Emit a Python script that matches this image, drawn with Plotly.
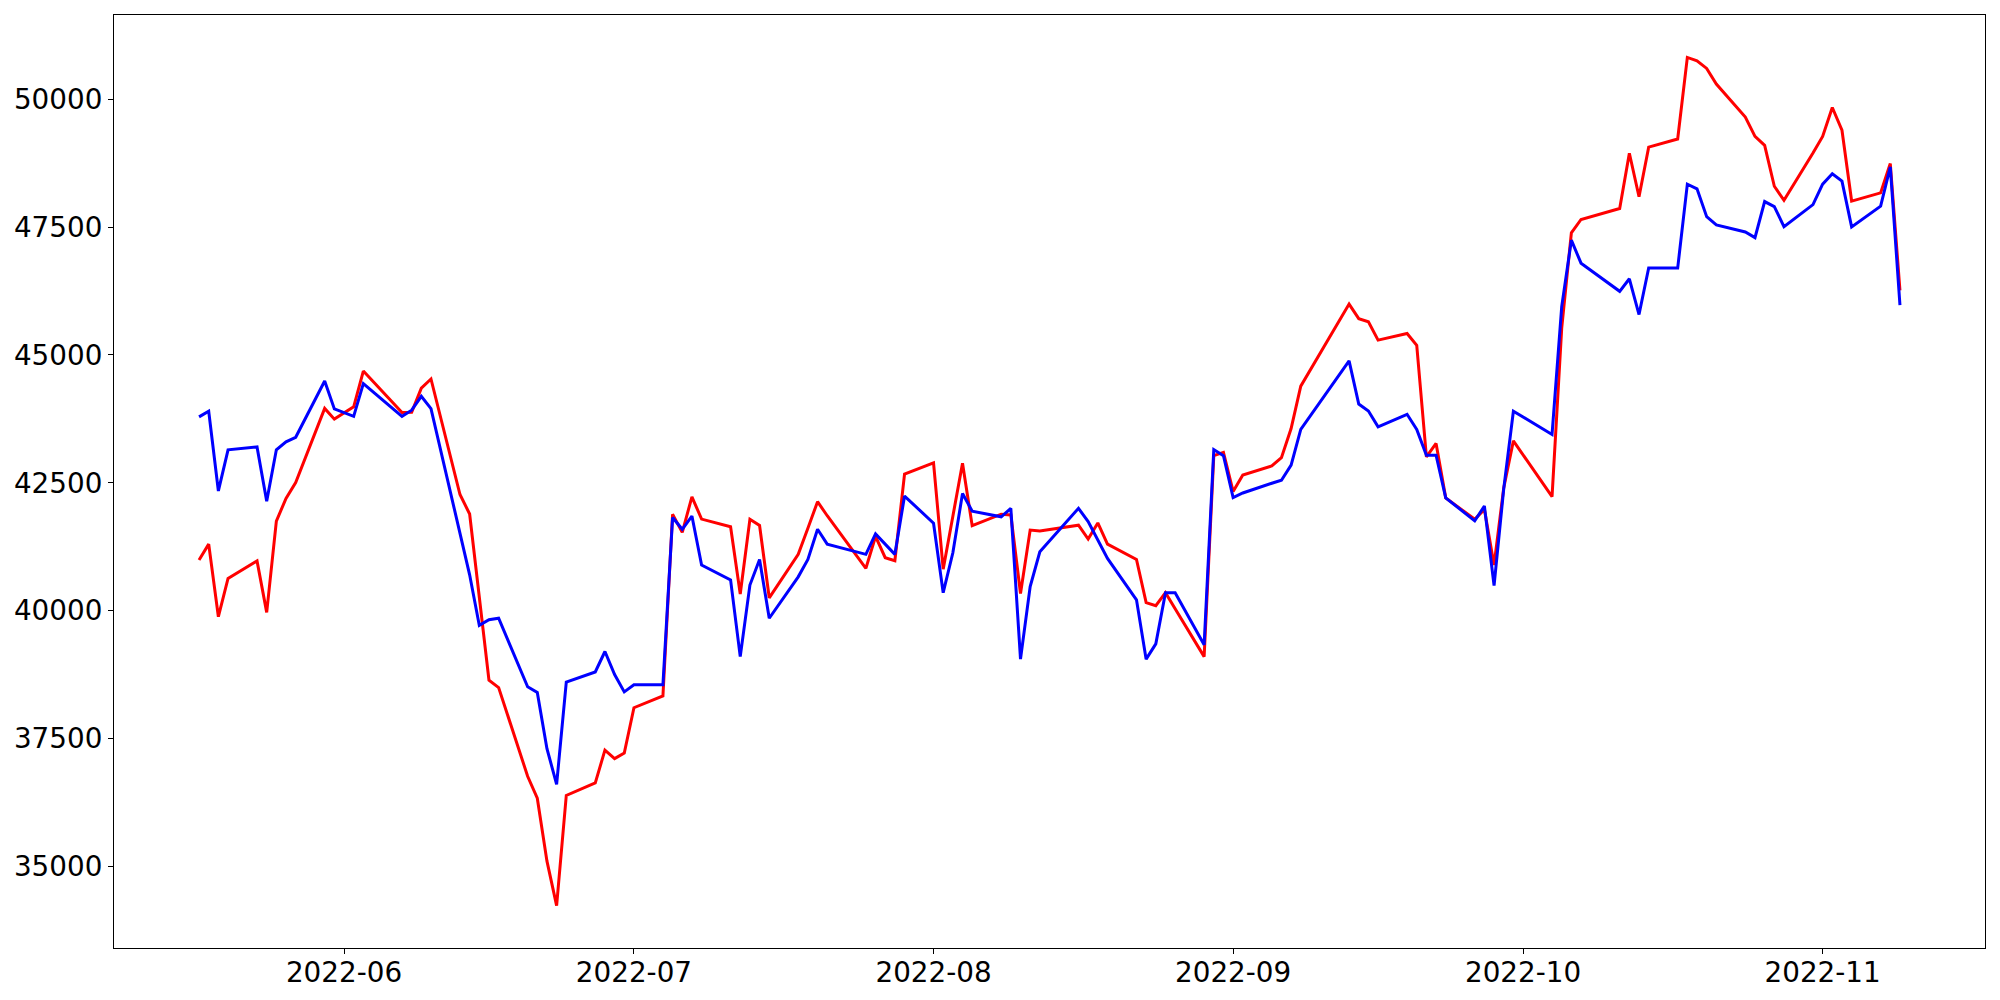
import pandas as pd
import plotly.graph_objects as go

dates = [
    "2022-05-17", "2022-05-18", "2022-05-19", "2022-05-20", "2022-05-23", "2022-05-24",
    "2022-05-25", "2022-05-26", "2022-05-27", "2022-05-30", "2022-05-31", "2022-06-02",
    "2022-06-03", "2022-06-07", "2022-06-08", "2022-06-09", "2022-06-10", "2022-06-13",
    "2022-06-14", "2022-06-15", "2022-06-16", "2022-06-17", "2022-06-20", "2022-06-21",
    "2022-06-22", "2022-06-23", "2022-06-24", "2022-06-27", "2022-06-28", "2022-06-29",
    "2022-06-30", "2022-07-01", "2022-07-04", "2022-07-05", "2022-07-06", "2022-07-07",
    "2022-07-08", "2022-07-11", "2022-07-12", "2022-07-13", "2022-07-14", "2022-07-15",
    "2022-07-18", "2022-07-19", "2022-07-20", "2022-07-21", "2022-07-25", "2022-07-26",
    "2022-07-27", "2022-07-28", "2022-07-29", "2022-08-01", "2022-08-02", "2022-08-03",
    "2022-08-04", "2022-08-05", "2022-08-08", "2022-08-09", "2022-08-10", "2022-08-11",
    "2022-08-12", "2022-08-16", "2022-08-17", "2022-08-18", "2022-08-19", "2022-08-22",
    "2022-08-23", "2022-08-24", "2022-08-25", "2022-08-26", "2022-08-29", "2022-08-30",
    "2022-08-31", "2022-09-01", "2022-09-02", "2022-09-05", "2022-09-06", "2022-09-07",
    "2022-09-08", "2022-09-13", "2022-09-14", "2022-09-15", "2022-09-16", "2022-09-19",
    "2022-09-20", "2022-09-21", "2022-09-22", "2022-09-23", "2022-09-26", "2022-09-27",
    "2022-09-28", "2022-09-29", "2022-09-30", "2022-10-04", "2022-10-05", "2022-10-06",
    "2022-10-07", "2022-10-11", "2022-10-12", "2022-10-13", "2022-10-14", "2022-10-17",
    "2022-10-18", "2022-10-19", "2022-10-20", "2022-10-21", "2022-10-24", "2022-10-25",
    "2022-10-26", "2022-10-27", "2022-10-28", "2022-10-31", "2022-11-01", "2022-11-02",
    "2022-11-03", "2022-11-04", "2022-11-07", "2022-11-08", "2022-11-09",
]

red_values = [
    40990, 41300, 39880, 40630, 40970, 39965,
    41750, 42195, 42505, 43955, 43745, 43985,
    44685, 43875, 43880, 44350, 44530, 42270,
    41890, 40265, 38640, 38495, 36760, 36330,
    35100, 34230, 36385, 36630, 37270, 37105,
    37215, 38100, 38330, 41885, 41530, 42225,
    41790, 41640, 40325, 41785, 41665, 40250,
    41100, 41610, 42130, 41855, 40825, 41450,
    41035, 40975, 42670, 42890, 40810, 41845,
    42880, 41660, 41885, 41870, 40335, 41575,
    41555, 41670, 41400, 41715, 41300, 41000,
    40155, 40095, 40350, 40035, 39100, 43030,
    43095, 42330, 42650, 42830, 42990, 43560,
    44390, 45995, 45710, 45650, 45290, 45420,
    45190, 43005, 43270, 42205, 41785, 41980,
    40890, 42400, 43320, 42230, 45525, 47390,
    47650, 47865, 48945, 48095, 49065, 49225,
    50820, 50755, 50605, 50300, 49655, 49275,
    49100, 48300, 48025, 48950, 49275, 49840,
    49395, 48010, 48170, 48745, 46265,
]

blue_values = [
    43790, 43900, 42340, 43145, 43200, 42140,
    43145, 43300, 43390, 44490, 43945, 43800,
    44440, 43800, 43920, 44190, 43950, 41550,
    40700, 39710, 39820, 39850, 38510, 38400,
    37300, 36600, 38600, 38800, 39200, 38750,
    38410, 38550, 38550, 41820, 41590, 41850,
    40890, 40600, 39100, 40500, 41000, 39850,
    40660, 41000, 41590, 41300, 41100, 41500,
    41300, 41100, 42240, 41710, 40350, 41130,
    42290, 41945, 41835, 42000, 39050, 40470,
    41150, 42000, 41740, 41380, 41020, 40210,
    39050, 39350, 40350, 40350, 39330, 43150,
    43030, 42210, 42300, 42490, 42550, 42845,
    43545, 44885, 44040, 43905, 43595, 43840,
    43545, 43040, 43040, 42205, 41755, 42045,
    40490, 42380, 43900, 43445, 45945, 47245,
    46795, 46245, 46490, 45790, 46700, 46700,
    48340, 48250, 47705, 47545, 47405, 47295,
    48000, 47900, 47510, 47940, 48340, 48545,
    48400, 47505, 47910, 48680, 45975,
]

y_ticks = [35000, 37500, 40000, 42500, 45000, 47500, 50000]
x_ticks = ["2022-06-01", "2022-07-01", "2022-08-01", "2022-09-01", "2022-10-01", "2022-11-01"]
x_tick_labels = ["2022-06", "2022-07", "2022-08", "2022-09", "2022-10", "2022-11"]

x = pd.to_datetime(dates)

# matplotlib-like 5% margins
x_span = x.max() - x.min()
x_range = [x.min() - 0.05 * x_span, x.max() + 0.05 * x_span]
all_vals = red_values + blue_values
y_span = max(all_vals) - min(all_vals)
y_range = [min(all_vals) - 0.05 * y_span, max(all_vals) + 0.05 * y_span]

fig = go.Figure()
fig.add_trace(go.Scatter(x=x, y=red_values, mode="lines",
                         line=dict(color="#ff0000", width=3), showlegend=False))
fig.add_trace(go.Scatter(x=x, y=blue_values, mode="lines",
                         line=dict(color="#0000ff", width=3), showlegend=False))

font = dict(family="DejaVu Sans", size=27.8, color="black")

# page body has an 8px margin; size the figure so the plot area lands where the reference has it
fig.update_layout(
    width=1984, height=984,
    margin=dict(l=105.5, r=7, t=7, b=44, pad=0),
    paper_bgcolor="white", plot_bgcolor="white",
    font=font,
    showlegend=False,
)
fig.update_xaxes(
    type="date", range=x_range,
    tickvals=pd.to_datetime(x_ticks), ticktext=x_tick_labels,
    showgrid=False, zeroline=False, automargin=False,
    showline=True, linecolor="black", linewidth=1.1, mirror=True,
    ticks="outside", ticklen=5, tickwidth=1.1, tickcolor="black",
    ticklabelstandoff=-5,
    tickfont=font,
)
fig.update_yaxes(
    range=y_range,
    tickvals=y_ticks, ticktext=[str(v) for v in y_ticks],
    showgrid=False, zeroline=False, automargin=False,
    showline=True, linecolor="black", linewidth=1.1, mirror=True,
    ticks="outside", ticklen=5, tickwidth=1.1, tickcolor="black",
    tickfont=font,
)

fig.write_html("out.html")
